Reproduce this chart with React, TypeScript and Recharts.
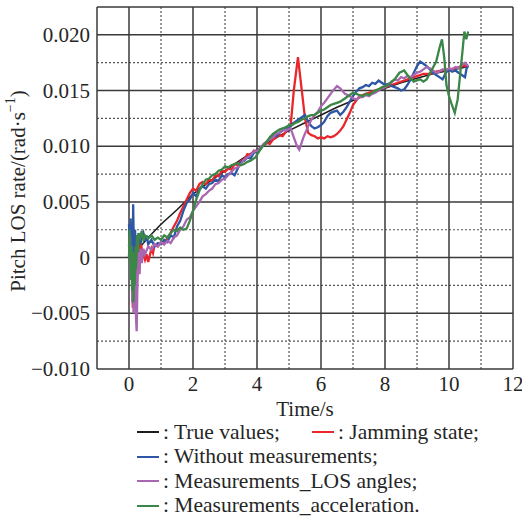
import React from 'react';
import { LineChart, Line, XAxis, YAxis, CartesianGrid } from 'recharts';

const xTicks = [0, 2, 4, 6, 8, 10, 12];
const yTicks = [-0.01, -0.005, 0, 0.005, 0.01, 0.015, 0.02];
const xMajor = [-1, 0, 2, 4, 6, 8, 10, 12];
const xMinor = [1, 3, 5, 7, 9, 11];
const yMajor = [-0.01, -0.005, 0, 0.005, 0.01, 0.015, 0.02, 0.0225];
const yMinor = [-0.0075, -0.0025, 0.0025, 0.0075, 0.0125, 0.0175];
const xDomain = [-1, 12];
const yDomain = [-0.01, 0.0225];

const trueValues: number[][] = [
  [0, 0.0], [0.3, 0.0008], [0.6, 0.0018], [1.0, 0.003], [1.5, 0.0043], [2, 0.0057], [2.5, 0.0068],
  [3, 0.0078], [3.5, 0.0088], [4, 0.0097], [4.5, 0.0106], [5, 0.0114], [5.5, 0.0121], [6, 0.0128],
  [6.5, 0.0135], [7, 0.0141], [7.5, 0.0147], [8, 0.0152], [8.5, 0.0157], [9, 0.0161], [9.5, 0.0165],
  [10, 0.0168], [10.5, 0.0171], [10.6, 0.0172],
];

const jamming: number[][] = [
  [0, 0.001], [0.03, 0.003], [0.06, -0.001], [0.08, 0.002], [0.1, -0.003], [0.12, -0.0045], [0.14, -0.001],
  [0.16, -0.004], [0.18, 0.0005], [0.2, -0.002], [0.22, 0.001], [0.25, -0.0015], [0.28, 0.0012], [0.31, 0.0002],
  [0.35, 0.0015], [0.4, 0.0008], [0.45, 0.0003], [0.5, -0.0002], [0.55, 0.0003], [0.6, -0.0004], [0.65, 0.0002],
  [0.7, 0.0008], [0.75, 0.0004], [0.8, 0.0012], [0.9, 0.001], [1.0, 0.0014], [1.1, 0.0012], [1.2, 0.0018],
  [1.3, 0.0022], [1.4, 0.0028], [1.5, 0.0033], [1.6, 0.004], [1.7, 0.0046], [1.8, 0.0052], [1.9, 0.0058],
  [2.0, 0.0062], [2.1, 0.006], [2.2, 0.0066], [2.3, 0.0068], [2.4, 0.0066], [2.5, 0.007], [2.6, 0.0069],
  [2.7, 0.0074], [2.8, 0.0073], [2.9, 0.0078], [3.0, 0.0077], [3.1, 0.008], [3.2, 0.0079], [3.3, 0.0084],
  [3.4, 0.0083], [3.5, 0.0087], [3.6, 0.0088], [3.7, 0.0093], [3.8, 0.0092], [3.9, 0.0096], [4.0, 0.0095],
  [4.1, 0.0098], [4.2, 0.0101], [4.3, 0.0103], [4.4, 0.0102], [4.5, 0.0106], [4.6, 0.0108], [4.7, 0.011],
  [4.8, 0.0109], [4.9, 0.0113], [5.05, 0.0118], [5.15, 0.015], [5.28, 0.018], [5.4, 0.015], [5.5, 0.0125],
  [5.6, 0.0112], [5.7, 0.011], [5.8, 0.0109], [5.9, 0.0107], [6.0, 0.0108], [6.1, 0.0107], [6.2, 0.0109],
  [6.3, 0.0108], [6.4, 0.0109], [6.5, 0.0111], [6.6, 0.0114], [6.7, 0.0118], [6.8, 0.0124], [6.9, 0.013],
  [7.0, 0.0137], [7.1, 0.0141], [7.2, 0.0145], [7.3, 0.0146], [7.4, 0.0147], [7.5, 0.0148], [7.6, 0.0149],
  [7.8, 0.0151], [8.0, 0.0153], [8.2, 0.0155], [8.4, 0.0157], [8.6, 0.0159], [8.8, 0.0161], [9.0, 0.0163],
  [9.2, 0.0165], [9.4, 0.0165], [9.6, 0.0167], [9.8, 0.0168], [10.0, 0.0169], [10.2, 0.017], [10.4, 0.0172],
  [10.6, 0.0172],
];

const withoutMeas: number[][] = [
  [0, 0.003], [0.03, 0.001], [0.05, 0.0035], [0.07, -0.001], [0.09, 0.003], [0.11, -0.002], [0.13, 0.0048],
  [0.15, 0.001], [0.17, -0.002], [0.19, 0.0025], [0.21, -0.0005], [0.24, 0.002], [0.27, 0.0005], [0.3, 0.0022],
  [0.35, 0.0012], [0.4, 0.0018], [0.45, 0.0022], [0.5, 0.0015], [0.55, 0.002], [0.6, 0.0012], [0.7, 0.0016],
  [0.8, 0.001], [0.9, 0.0013], [1.0, 0.0012], [1.1, 0.0016], [1.2, 0.0014], [1.3, 0.002], [1.4, 0.0018],
  [1.5, 0.0028], [1.6, 0.0033], [1.7, 0.0042], [1.8, 0.0049], [1.9, 0.0052], [2.0, 0.0058], [2.1, 0.0055],
  [2.2, 0.0062], [2.3, 0.0064], [2.4, 0.0062], [2.5, 0.0066], [2.6, 0.0067], [2.7, 0.007], [2.8, 0.0069],
  [2.9, 0.0074], [3.0, 0.0072], [3.1, 0.0075], [3.2, 0.0076], [3.3, 0.0074], [3.4, 0.008], [3.5, 0.0086],
  [3.6, 0.0087], [3.7, 0.009], [3.8, 0.0089], [3.9, 0.0094], [4.0, 0.0095], [4.1, 0.0097], [4.2, 0.0101],
  [4.3, 0.0104], [4.4, 0.0107], [4.5, 0.011], [4.6, 0.0109], [4.7, 0.0112], [4.8, 0.0114], [4.9, 0.0117],
  [5.0, 0.0116], [5.1, 0.012], [5.2, 0.0122], [5.3, 0.0124], [5.4, 0.0126], [5.5, 0.0128], [5.6, 0.0122],
  [5.7, 0.0118], [5.8, 0.0116], [5.9, 0.0117], [6.0, 0.0119], [6.1, 0.0122], [6.2, 0.0127], [6.3, 0.013],
  [6.4, 0.0131], [6.5, 0.0132], [6.6, 0.0128], [6.7, 0.0131], [6.8, 0.0135], [6.9, 0.014], [7.0, 0.0145],
  [7.1, 0.0149], [7.2, 0.0152], [7.3, 0.0153], [7.4, 0.0155], [7.5, 0.0154], [7.6, 0.0157], [7.7, 0.0156],
  [7.8, 0.0159], [7.9, 0.0157], [8.0, 0.0155], [8.1, 0.0156], [8.2, 0.0154], [8.3, 0.0153], [8.4, 0.0152],
  [8.5, 0.015], [8.6, 0.0151], [8.7, 0.0155], [8.8, 0.016], [8.9, 0.0166], [9.0, 0.0172], [9.1, 0.0176],
  [9.2, 0.0174], [9.3, 0.0172], [9.4, 0.0169], [9.5, 0.0166], [9.6, 0.0164], [9.7, 0.0162], [9.8, 0.016],
  [9.9, 0.0166], [10.0, 0.0169], [10.1, 0.0167], [10.2, 0.0168], [10.3, 0.0166], [10.4, 0.0164],
  [10.5, 0.0162], [10.55, 0.017], [10.6, 0.0172],
];

const losAngles: number[][] = [
  [0, 0.0], [0.03, 0.002], [0.06, -0.002], [0.08, 0.001], [0.1, -0.004], [0.12, -0.001], [0.14, -0.005],
  [0.16, -0.002], [0.18, -0.0045], [0.2, -0.001], [0.22, -0.0055], [0.24, -0.0066], [0.26, -0.003],
  [0.28, -0.001], [0.3, 0.0005], [0.33, -0.0015], [0.36, 0.0008], [0.4, -0.0005], [0.45, 0.0008], [0.5, 0.0003],
  [0.6, 0.001], [0.7, 0.0007], [0.8, 0.0012], [0.9, 0.001], [1.0, 0.0014], [1.1, 0.0012], [1.2, 0.0015],
  [1.3, 0.0013], [1.4, 0.0018], [1.5, 0.002], [1.6, 0.0025], [1.7, 0.0028], [1.8, 0.0034], [1.9, 0.0036],
  [2.0, 0.0042], [2.1, 0.0046], [2.2, 0.005], [2.3, 0.0055], [2.4, 0.0057], [2.5, 0.006], [2.6, 0.0062],
  [2.7, 0.0066], [2.8, 0.0067], [2.9, 0.007], [3.0, 0.0071], [3.1, 0.0074], [3.2, 0.0077], [3.3, 0.008],
  [3.4, 0.0081], [3.5, 0.0084], [3.6, 0.0088], [3.7, 0.009], [3.8, 0.0092], [3.9, 0.0095], [4.0, 0.0096],
  [4.1, 0.0098], [4.2, 0.0102], [4.3, 0.0104], [4.4, 0.0106], [4.5, 0.0108], [4.6, 0.0111], [4.7, 0.0112],
  [4.8, 0.0115], [4.9, 0.0114], [5.05, 0.0116], [5.15, 0.0108], [5.25, 0.01], [5.32, 0.0097], [5.45, 0.0108],
  [5.6, 0.0118], [5.7, 0.0124], [5.8, 0.0128], [5.9, 0.0131], [6.0, 0.0136], [6.1, 0.0139], [6.2, 0.0143],
  [6.35, 0.0149], [6.5, 0.0154], [6.6, 0.0152], [6.75, 0.0147], [6.9, 0.0145], [7.0, 0.0143], [7.1, 0.0142],
  [7.2, 0.0144], [7.3, 0.0144], [7.4, 0.0146], [7.5, 0.0145], [7.6, 0.0147], [7.7, 0.0148], [7.8, 0.015],
  [7.9, 0.0152], [8.0, 0.0153], [8.1, 0.0155], [8.2, 0.0157], [8.3, 0.016], [8.4, 0.0159], [8.5, 0.0162],
  [8.6, 0.0161], [8.7, 0.0163], [8.8, 0.0162], [8.9, 0.0164], [9.0, 0.0166], [9.1, 0.0167], [9.2, 0.0169],
  [9.3, 0.0171], [9.4, 0.017], [9.5, 0.0168], [9.6, 0.0166], [9.7, 0.0167], [9.8, 0.0169], [9.9, 0.0168],
  [10.0, 0.017], [10.1, 0.0169], [10.2, 0.0171], [10.3, 0.017], [10.4, 0.0173], [10.5, 0.0175], [10.6, 0.0172],
];

const acceleration: number[][] = [
  [0, 0.0], [0.02, 0.0025], [0.04, 0.0], [0.06, -0.002], [0.08, 0.001], [0.1, -0.003], [0.12, 0.0005],
  [0.14, -0.004], [0.16, 0.0], [0.18, -0.0025], [0.2, 0.001], [0.22, -0.001], [0.25, 0.002], [0.28, 0.0005],
  [0.3, 0.0022], [0.35, 0.0018], [0.4, 0.0024], [0.45, 0.0016], [0.5, 0.002], [0.6, 0.0017], [0.7, 0.002],
  [0.8, 0.0016], [0.9, 0.0018], [1.0, 0.0016], [1.1, 0.002], [1.2, 0.0018], [1.3, 0.0022], [1.4, 0.0025],
  [1.5, 0.0024], [1.6, 0.0027], [1.7, 0.0025], [1.8, 0.0026], [1.9, 0.0033], [2.0, 0.0042], [2.1, 0.0052],
  [2.2, 0.006], [2.3, 0.0066], [2.4, 0.007], [2.5, 0.0071], [2.6, 0.0074], [2.7, 0.0075], [2.8, 0.0078],
  [2.9, 0.0079], [3.0, 0.0082], [3.1, 0.0081], [3.2, 0.0083], [3.3, 0.0084], [3.4, 0.0085], [3.5, 0.0083],
  [3.6, 0.0084], [3.7, 0.0086], [3.8, 0.0087], [3.95, 0.009], [4.1, 0.0097], [4.2, 0.0101], [4.3, 0.0104],
  [4.4, 0.0108], [4.5, 0.0111], [4.6, 0.0113], [4.7, 0.0115], [4.8, 0.0116], [4.9, 0.0117], [5.0, 0.0119],
  [5.1, 0.0119], [5.2, 0.0121], [5.3, 0.0122], [5.4, 0.0124], [5.5, 0.0125], [5.6, 0.0127], [5.7, 0.0128],
  [5.8, 0.0128], [5.9, 0.013], [6.0, 0.0132], [6.1, 0.0133], [6.2, 0.0135], [6.3, 0.0137], [6.4, 0.0138],
  [6.5, 0.0139], [6.6, 0.014], [6.7, 0.0142], [6.8, 0.0144], [6.9, 0.0146], [7.0, 0.0148], [7.1, 0.0147],
  [7.2, 0.0146], [7.3, 0.0145], [7.4, 0.0147], [7.5, 0.0146], [7.6, 0.0148], [7.7, 0.015], [7.8, 0.0151],
  [7.9, 0.0153], [8.0, 0.0154], [8.1, 0.0155], [8.2, 0.0158], [8.3, 0.016], [8.45, 0.0166], [8.6, 0.0168],
  [8.75, 0.0162], [8.9, 0.0158], [9.0, 0.0159], [9.1, 0.016], [9.2, 0.0158], [9.3, 0.016], [9.45, 0.0168],
  [9.6, 0.0176], [9.7, 0.0188], [9.78, 0.0196], [9.85, 0.018], [9.92, 0.0155], [10.0, 0.0145], [10.08, 0.0138],
  [10.18, 0.013], [10.27, 0.0142], [10.35, 0.0165], [10.42, 0.0185], [10.48, 0.0203], [10.54, 0.0196],
  [10.6, 0.0203],
];

const seriesNames = ['True values;', 'Jamming state;', 'Without measurements;', 'Measurements_LOS angles;', 'Measurements_acceleration.'];
const seriesColors = ['#1e1e1e', '#e8262c', '#2d57a6', '#a967b2', '#3a8747'];
const seriesData = [trueValues, jamming, withoutMeas, losAngles, acceleration];

const toPts = (arr: number[][]) => arr.map(([t, v]) => ({ t, v }));

const FONT = '"Liberation Serif", "Times New Roman", Times, serif';
const TXT = '#262626';

const fmtY = (v: number) => {
  if (Math.abs(v) < 1e-12) return '0';
  const s = Math.abs(v).toFixed(3);
  return v < 0 ? '\u2212' + s : s;
};

const genV = (vals: number[]) => (props: any) => {
  const { offset } = props;
  return vals.map((d) => offset.left + ((d - xDomain[0]) / (xDomain[1] - xDomain[0])) * offset.width);
};
const genH = (vals: number[]) => (props: any) => {
  const { offset } = props;
  return vals.map((d) => offset.top + ((yDomain[1] - d) / (yDomain[1] - yDomain[0])) * offset.height);
};

const XTick = (props: any) => {
  const { x, y, payload } = props;
  return (
    <text x={x} y={y - 1} textAnchor="middle" dominantBaseline="hanging" fontFamily={FONT} fontSize={21} fill={TXT}>
      {String(payload.value)}
    </text>
  );
};

const YTick = (props: any) => {
  const { x, y, payload } = props;
  return (
    <text x={x + 1} y={y} textAnchor="end" dominantBaseline="central" fontFamily={FONT} fontSize={21} fill={TXT}>
      {fmtY(payload.value)}
    </text>
  );
};

const YLabel = () => (
  <text
    x={18}
    y={191}
    transform="rotate(-90 18 191)"
    textAnchor="middle"
    dominantBaseline="central"
    fontFamily={FONT}
    fontSize={21}
    fill={TXT}
  >
    Pitch LOS rate/(rad·s
    <tspan baselineShift="super" fontSize={14}>−1</tspan>
    )
  </text>
);

const XLabel = () => (
  <text x={305} y={409} textAnchor="middle" dominantBaseline="central" fontFamily={FONT} fontSize={21} fill={TXT}>
    Time/s
  </text>
);

export default function App() {
  const legendRows: { idx: number; x: number }[][] = [
    [{ idx: 0, x: 137 }, { idx: 1, x: 312 }],
    [{ idx: 2, x: 137 }],
    [{ idx: 3, x: 137 }],
    [{ idx: 4, x: 137 }],
  ];
  const rowY = [432, 456.5, 481, 505.5];
  return (
    <div style={{ position: 'absolute', left: 0, top: 0, width: 522, height: 521, background: '#fff' }}>
      <LineChart width={522} height={521} margin={{ top: 7, right: 9, left: 0, bottom: 102 }}>
        <CartesianGrid
          vertical
          horizontal
          stroke="#555"
          strokeWidth={1.2}
          strokeDasharray="2 2"
          verticalCoordinatesGenerator={genV(xMinor)}
          horizontalCoordinatesGenerator={genH(yMinor)}
        />
        <CartesianGrid
          vertical
          horizontal
          stroke="#3a3a3a"
          strokeWidth={1.5}
          verticalCoordinatesGenerator={genV(xMajor)}
          horizontalCoordinatesGenerator={genH(yMajor)}
        />
        <XAxis
          dataKey="t"
          type="number"
          domain={xDomain}
          ticks={xTicks}
          allowDataOverflow
          axisLine={false}
          tickLine={false}
          height={50}
          tick={<XTick />}
          label={{ content: () => <XLabel /> }}
        />
        <YAxis
          type="number"
          domain={yDomain}
          ticks={yTicks}
          allowDataOverflow
          axisLine={false}
          tickLine={false}
          width={97}
          tick={<YTick />}
          label={{ content: () => <YLabel /> }}
        />
        {seriesData.map((d, i) => (
          <Line
            key={i}
            data={toPts(d)}
            dataKey="v"
            type="linear"
            stroke={seriesColors[i]}
            strokeWidth={i === 0 ? 1.6 : 2.3}
            dot={false}
            activeDot={false}
            isAnimationActive={false}
            name={seriesNames[i]}
          />
        ))}
      </LineChart>
      {legendRows.map((row, r) =>
        row.map(({ idx, x }) => (
          <div
            key={`${r}-${idx}`}
            style={{
              position: 'absolute',
              left: x,
              top: rowY[r] - 12,
              height: 24,
              display: 'flex',
              alignItems: 'center',
              fontFamily: FONT,
              fontSize: 21.5,
              color: TXT,
              whiteSpace: 'nowrap',
            }}
          >
            <span style={{ display: 'inline-block', width: 22, height: 0, borderTop: `2px solid ${seriesColors[idx]}`, marginRight: 4 }} />
            <span>: {seriesNames[idx]}</span>
          </div>
        ))
      )}
    </div>
  );
}
